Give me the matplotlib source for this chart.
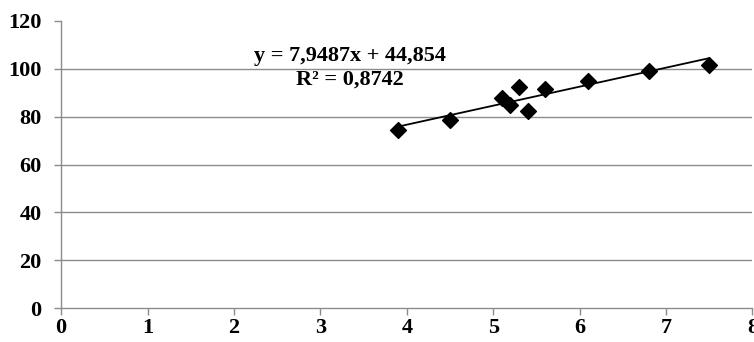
import matplotlib.pyplot as plt
import numpy as np

# data
x_vals = [3.9, 4.5, 5.1, 5.2, 5.3, 5.4, 5.6, 6.1, 6.8, 7.5]
y_vals = [74.5, 78.5, 88.0, 85.0, 92.5, 82.5, 91.5, 95.0, 99.0, 101.5]
slope, intercept = 7.9487, 44.854
r2_label = "0,8742"
x_ticks = [0, 1, 2, 3, 4, 5, 6, 7, 8]
y_ticks = [0, 20, 40, 60, 80, 100, 120]

plt.rcParams['font.family'] = ['Liberation Serif', 'DejaVu Serif']

fig = plt.figure(figsize=(7.54, 3.42), dpi=100)
ax = fig.add_axes([0.081, 0.0994, 0.917, 0.8392])

grid_col = '#8c8c8c'
for v in y_ticks[1:-1]:
    ax.axhline(v, color=grid_col, lw=1.0, zorder=0)

xs = np.array(x_vals)
xl = np.array([xs.min(), xs.max()])
ax.plot(xl, slope * xl + intercept, color='black', lw=1.3, zorder=2)
ax.scatter(x_vals, y_vals, marker='D', s=65, color='black', zorder=3)

ax.text(3.34, 105.4, f"y = {slope:.4f}x + {intercept:.3f}".replace('.', ','),
        ha='center', va='center', fontsize=16, fontweight='bold')
ax.text(3.34, 95.7, f"R² = {r2_label}", ha='center', va='center',
        fontsize=16, fontweight='bold')

ax.set_xlim(0, 8)
ax.set_ylim(0, 120)
ax.set_xticks(x_ticks)
ax.set_yticks(y_ticks)
ax.set_xticklabels([str(t) for t in x_ticks], fontsize=16, fontweight='bold')
ax.set_yticklabels([str(t) for t in y_ticks], fontsize=16, fontweight='bold')
ax.tick_params(axis='both', color=grid_col, length=5, width=1)
ax.tick_params(axis='y', pad=9)
ax.tick_params(axis='x', pad=2)

for s in ['top', 'right']:
    ax.spines[s].set_visible(False)
for s in ['left', 'bottom']:
    ax.spines[s].set_color(grid_col)
    ax.spines[s].set_linewidth(1.0)

fig.savefig('out.png', dpi=100)
